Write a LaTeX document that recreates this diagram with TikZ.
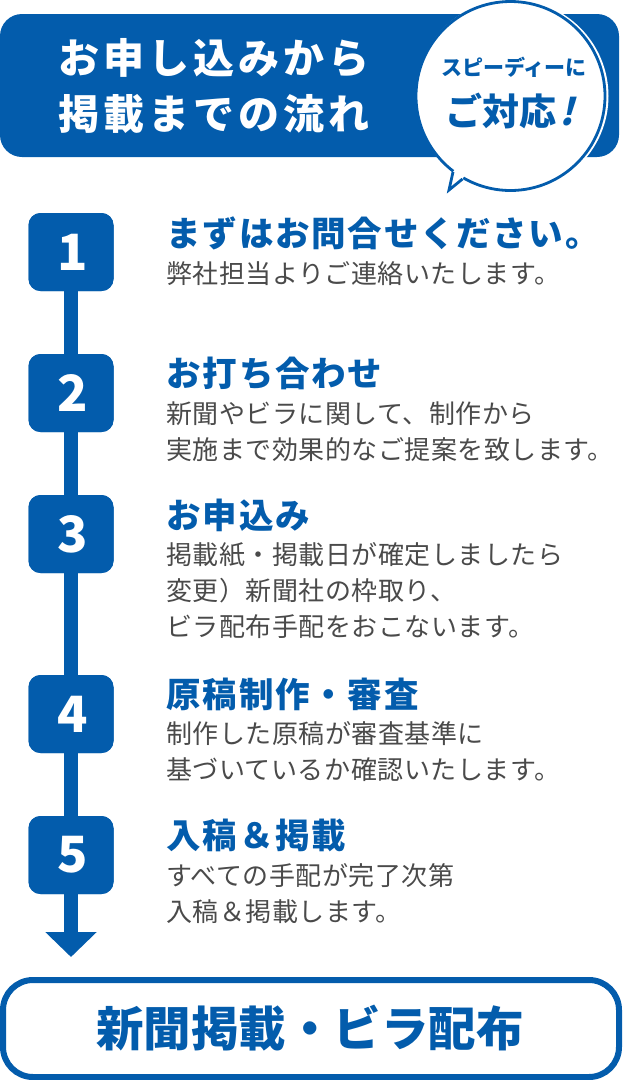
\documentclass[tikz,border=0pt]{standalone}
\usepackage{fontspec}
\setmainfont{Noto Sans CJK JP}
\usetikzlibrary{arrows.meta}
\newfontfamily\headf[LetterSpace=10]{Noto Sans CJK JP}
\newfontfamily\titlef[LetterSpace=5]{Noto Sans CJK JP}
\newfontfamily\bodyf[LetterSpace=2]{Noto Sans CJK JP}
\newfontfamily\slantf[FakeSlant=0.25]{Noto Sans CJK JP}
\definecolor{brand}{HTML}{035CAC}
\definecolor{bodyc}{HTML}{4A4A4A}
\newcommand{\stepnum}[1]{\hspace{3pt}\raisebox{-1.5pt}{#1}}
\tikzset{
 x=1pt,y=-1pt,
 numbox/.style={fill=brand,rounded corners=12pt,minimum width=85pt,minimum height=78pt,inner sep=0pt,text=white,font=\fontsize{50}{50}\selectfont\bfseries},
 steptitle/.style={anchor=west,inner sep=0pt,text=brand,font=\titlef\fontsize{34.5}{34.5}\selectfont\bfseries},
 stepbody/.style={anchor=north west,inner sep=0pt,text=bodyc,align=left,font=\bodyf\fontsize{26}{36}\selectfont},
 spine/.style={draw=brand,line width=14pt},
}
\begin{document}
\begin{tikzpicture}
\useasboundingbox (0,0) rectangle (622,1080);
% header
\node[fill=brand,rounded corners=22pt,minimum width=619pt,minimum height=143pt,inner sep=0pt] (head) at (309.5,85.5) {};
\node[text=white,inner sep=0pt,align=center,font=\headf\fontsize{41}{56}\selectfont\bfseries] (headt) at (214,86) {お申し込みから\\掲載までの流れ};
% bubble: white halo, ring, notch of the tail
\node[circle,fill=white,minimum size=193pt,inner sep=0pt,outer sep=0pt] (halo) at (512,96) {};
\node[circle,fill=white,draw=brand,line width=2.8pt,minimum size=189pt,inner sep=0pt,outer sep=0pt] (bubble) at (510.5,96) {};
\coordinate (tailA) at (453,172);
\coordinate (tailTip) at (449,190);
\coordinate (tailB) at (462.5,179);
\fill[white] (tailA) -- (tailTip) -- (tailB) -- (467.5,170.5) -- (459,164) -- cycle;
\draw[brand,line width=2.8pt,miter limit=10] (tailA) -- (tailTip) -- (tailB);
\node[text=brand,inner sep=0pt,font=\fontsize{21}{21}\selectfont\bfseries] (sp) at (514,67) {スピーディーに};
\node[text=brand,inner sep=0pt,font=\fontsize{37}{37}\selectfont\bfseries] (taio) at (510,111) {ご対応\hspace{3pt}{\slantf !}};
% steps
\node[numbox] (n1) at (71,252) {};
\node[numbox] (n2) at (71,393) {};
\node[numbox] (n3) at (71,534) {};
\node[numbox] (n4) at (71,714) {};
\node[numbox] (n5) at (71,855) {};
\coordinate (tip) at (71,957);
\draw[spine] (n1) -- (n2);
\draw[spine] (n2) -- (n3);
\draw[spine] (n3) -- (n4);
\draw[spine] (n4) -- (n5);
\draw[spine,-{Triangle[width=50pt,length=25pt]}] (n5) -- (tip);
\node[numbox] (d1) at (n1) {\stepnum{1}};
\node[numbox] (d2) at (n2) {\stepnum{2}};
\node[numbox] (d3) at (n3) {\stepnum{3}};
\node[numbox] (d4) at (n4) {\stepnum{4}};
\node[numbox] (d5) at (n5) {\stepnum{5}};
\node[steptitle] (t1) at (166.5,233) {まずはお問合せください。};
\node[stepbody] (b1) at (166,261) {弊社担当よりご連絡いたします。};
\node[steptitle] (t2) at (166.5,373) {お打ち合わせ};
\node[stepbody] (b2) at (166,402) {新聞やビラに関して、制作から\\実施まで効果的なご提案を致します。};
\node[steptitle] (t3) at (166.5,515) {お申込み};
\node[stepbody] (b3) at (166,542) {掲載紙・掲載日が確定しましたら\\変更）新聞社の枠取り、\\ビラ配布手配をおこないます。};
\node[steptitle] (t4) at (166.5,694) {原稿制作・審査};
\node[stepbody] (b4) at (166,721) {制作した原稿が審査基準に\\基づいているか確認いたします。};
\node[steptitle] (t5) at (166.5,835) {入稿＆掲載};
\node[stepbody] (b5) at (166,863) {すべての手配が完了次第\\入稿＆掲載します。};
% final
\node[draw=brand,line width=6pt,fill=white,rounded corners=30pt,minimum width=616pt,minimum height=97pt,inner sep=0pt,text=brand,font=\fontsize{47.5}{47.5}\selectfont\bfseries] (final) at (311,1028.5) {\hspace{-2pt}新聞掲載・ビラ配布};
\end{tikzpicture}
\end{document}
